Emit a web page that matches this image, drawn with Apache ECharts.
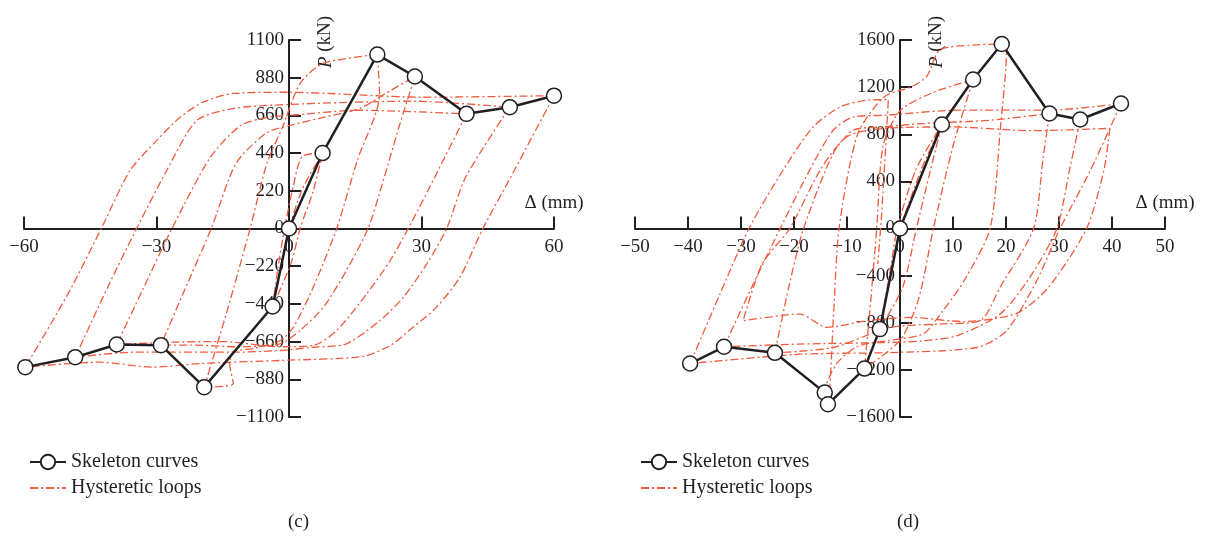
<!DOCTYPE html>
<html>
<head>
<meta charset="utf-8">
<script src="https://cdn.jsdelivr.net/npm/echarts@6/dist/echarts.min.js"></script>
<style>
  html, body { margin: 0; padding: 0; background: #fff; }
  #chart { width: 1206px; height: 539px; }
</style>
</head>
<body>
<div id="chart"></div>
<script>
// ---- panel (c) ----
const ticksXc = [-60, -30, 0, 30, 60];
const ticksYc = [-1100, -880, -660, -440, -220, 0, 220, 440, 660, 880, 1100];

const skeletonC = [[-59.7, -809], [-48.4, -751], [-39, -677], [-29, -681], [-19.2, -926], [-3.7, -455],
  [0, 0], [7.6, 440], [20, 1015], [28.5, 887], [40.2, 669], [50, 708], [60, 775]];

const loopC1 = [[0, 0], [3, 230], [7.6, 440], [5.5, 220], [2.5, 0], [0.5, -200], [-3.7, -455],
  [-2.5, -230], [-1, 0], [1, 250], [3, 420], [7.6, 440]];
const loopC2 = [[20, 1015], [20.5, 780], [15.5, 400], [10.8, 0], [5.5, -342], [1, -576], [-2, -654],
  [-8, -700], [-12.6, -720], [-13.4, -790], [-12.6, -905], [-19.2, -926], [-14, -480], [-8.8, 0],
  [-5, 380], [-1.5, 590], [2.5, 846], [7.7, 963], [20, 1015]];
const loopC3 = [[28.5, 887], [25, 600], [21, 250], [17.9, 0], [13, -245], [7.8, -459], [2.5, -595],
  [-2, -673], [-12, -690], [-22, -680], [-29, -681], [-24, -380], [-17.6, 0], [-12, 380], [-5, 560],
  [0, 600], [8, 650], [16, 700], [22, 790], [28.5, 887]];
const loopC4 = [[40.2, 669], [33, 300], [27, 0], [22.9, -187], [17.6, -381], [10.8, -595], [5.5, -683],
  [-2, -690], [-15, -660], [-26, -663], [-39, -677], [-33, -350], [-26.5, 0], [-17.8, 416], [-11, 600],
  [-5, 648], [0, 660], [16, 690], [40.2, 669]];
const loopC5 = [[50, 708], [40, 300], [35.7, 0], [31.2, -206], [25.9, -401], [20.6, -537], [13, -673],
  [5.4, -693], [-2, -712], [-12.7, -722], [-35.3, -722], [-48.4, -751], [-41, -340], [-34.5, 0],
  [-27.7, 338], [-20.9, 630], [-12.7, 700], [0, 724], [28, 743], [50, 708]];
const loopC6 = [[60, 775], [50.2, 300], [43.9, 0], [38.7, -284], [33.4, -459], [28.1, -576], [22.9, -683],
  [16.7, -747], [-2, -770], [-20.2, -788], [-30.9, -809], [-42.9, -780], [-59.7, -809], [-50, -380],
  [-42.5, 0], [-36, 338], [-30, 513], [-24.7, 648], [-19.5, 737], [-12.7, 788], [0, 795], [30.3, 766],
  [60, 775]];

// ---- panel (d) ----
const ticksXd = [-50, -40, -30, -20, -10, 0, 10, 20, 30, 40, 50];
const ticksYd = [-1600, -1200, -800, -400, 0, 400, 800, 1200, 1600];

const skeletonD = [[-39.6, -1146], [-33.2, -1004], [-23.6, -1055], [-14.2, -1393], [-13.6, -1492],
  [-6.7, -1189], [-3.8, -854], [0, 0], [7.9, 883], [13.8, 1265], [19.2, 1566], [28.2, 976], [34, 925],
  [41.7, 1061]];

const loopD1 = [[0, 0], [4, 500], [7.9, 883], [5.5, 450], [3.1, 0], [0.5, -500], [-3.8, -854],
  [-2, -400], [-0.5, 0], [3, 500], [7.9, 883]];
const loopD2 = [[13.8, 1265], [10, 700], [6.3, 0], [3.5, -600], [0, -950], [-6.7, -1189], [-5.5, -600],
  [-4.4, 0], [-3.2, 700], [0, 1000], [6, 1150], [13.8, 1265]];
const loopD3 = [[19.2, 1566], [20.1, 1515], [18.9, 834], [17, 0], [12, -450], [8.1, -698], [4.4, -894],
  [-2, -950], [-8, -1000], [-12, -1150], [-14.2, -1393], [-13.6, -1492], [-12.5, -700], [-11.5, 0],
  [-8, 800], [-3, 1117], [2, 1200], [5, 1288], [7.5, 1515], [13.8, 1557], [19.2, 1566]];
const loopD4 = [[28.2, 976], [27, 600], [25.2, 0], [18.9, -497], [15.1, -783], [7.5, -811], [-1.9, -840],
  [-12.6, -1010], [-23.6, -1055], [-21, -500], [-18.2, 0], [-12.6, 637], [-8.8, 834], [-3.2, 862],
  [4.4, 891], [17, 919], [28.2, 976]];
const loopD5 = [[34, 925], [32, 500], [29.6, 0], [24.5, -414], [18.9, -726], [10.7, -911], [4.4, -953],
  [-1.9, -967], [-18.9, -981], [-33.2, -1004], [-28, -500], [-22.6, 0], [-17, 500], [-12.6, 834],
  [-8.8, 947], [-2.5, 962], [10.7, 1004], [28.3, 1004], [41.7, 1061]];
const loopD6 = [[41.7, 1061], [36, 500], [30.2, 0], [25.8, -443], [20.1, -868], [14.5, -1010],
  [-1.9, -1053], [-18.9, -1067], [-39.6, -1146], [-34, -560], [-28.5, 0], [-22, 500], [-16.4, 862],
  [-11.3, 1032], [-6.3, 1089], [-2.2, 1095], [-3.5, 96], [-4.2, -300]];
const loopD7 = [[39.6, 850], [38.5, 500], [35.2, 0], [28, -500], [22, -720], [12, -790], [1.9, -755],
  [-6.3, -783], [-13.8, -840], [-18.9, -726], [-29.6, -783], [-26, -300], [-20.8, 0], [-15, 500],
  [-10, 780], [-3, 850], [10, 862], [25, 830], [39.6, 850]];

const loopsC = [loopC1, loopC2, loopC3, loopC4, loopC5, loopC6];
const loopsD = [loopD1, loopD2, loopD3, loopD4, loopD5, loopD6, loopD7];

const FONT = '"Liberation Serif", "DejaVu Serif", serif';
const INK = '#231f20';
const LOOP = '#ef5b3d';
const minus = v => String(v).replace('-', '\u2212');

// both panels share the same plot box size
const W = 1206, H = 539;
const gridC = { left: 24, right: 652, top: 40, bottom: 122 };
const gridD = { left: 635, right: 41, top: 40, bottom: 122 };

// axes cross at zero: shift them in by where zero falls inside the box
const zeroFrac = ticks => (0 - ticks[0]) / (ticks[ticks.length - 1] - ticks[0]);

const xAxisFor = (gridIndex, ticks, yTicks, grid) => ({
  type: 'value',
  gridIndex: gridIndex,
  min: ticks[0],
  max: ticks[ticks.length - 1],
  interval: ticks[1] - ticks[0],
  position: 'bottom',
  offset: -zeroFrac(yTicks) * (H - grid.top - grid.bottom),
  name: 'Δ (mm)',
  nameLocation: 'end',
  nameGap: 0,
  nameTextStyle: {
    fontFamily: FONT, fontSize: 19, color: INK,
    align: 'center', verticalAlign: 'bottom', padding: [0, 0, 16, 0]
  },
  axisLine: { onZero: false, lineStyle: { color: INK, width: 2 } },
  axisTick: { inside: true, length: 12, lineStyle: { color: INK, width: 2 } },
  axisLabel: { formatter: minus, fontFamily: FONT, fontSize: 19, color: INK, margin: 9 },
  splitLine: { show: false }
});

const yAxisFor = (gridIndex, ticks, xTicks, grid) => ({
  type: 'value',
  gridIndex: gridIndex,
  min: ticks[0],
  max: ticks[ticks.length - 1],
  interval: ticks[1] - ticks[0],
  position: 'left',
  offset: -zeroFrac(xTicks) * (W - grid.left - grid.right),
  name: '{i|P} (kN)',
  nameLocation: 'end',
  nameGap: -2,
  nameRotate: 90,
  nameTextStyle: {
    fontFamily: FONT, fontSize: 19, color: INK,
    align: 'center', verticalAlign: 'top', padding: [27, 0, 0, 0],
    rich: { i: { fontFamily: FONT, fontSize: 19, color: INK, fontStyle: 'italic' } }
  },
  axisLine: { onZero: false, lineStyle: { color: INK, width: 2 } },
  axisTick: { inside: true, length: 12, lineStyle: { color: INK, width: 2 } },
  axisLabel: { formatter: minus, fontFamily: FONT, fontSize: 19, color: INK, margin: 5 },
  splitLine: { show: false }
});

const loopSeries = (loops, idx) => loops.map(pts => ({
  name: 'Hysteretic loops',
  type: 'line',
  xAxisIndex: idx,
  yAxisIndex: idx,
  data: pts,
  symbol: 'none',
  smooth: 0.25,
  z: 2,
  itemStyle: { color: LOOP, opacity: 0 },
  lineStyle: { color: LOOP, width: 1.3, type: [8, 3, 2, 3] }
}));

const skeletonSeries = (pts, idx) => ({
  name: 'Skeleton curves',
  type: 'line',
  xAxisIndex: idx,
  yAxisIndex: idx,
  data: pts,
  symbol: 'circle',
  symbolSize: 15,
  z: 5,
  itemStyle: { color: '#fff', borderColor: INK, borderWidth: 1.5 },
  lineStyle: { color: INK, width: 2.5 }
});

const legendAt = left => ({
  orient: 'vertical',
  left: left,
  top: 447,
  itemWidth: 36,
  itemHeight: 18,
  itemGap: 6,
  itemTextGap: 13,
  data: ['Skeleton curves', 'Hysteretic loops'],
  textStyle: { fontFamily: FONT, fontSize: 20, color: INK }
});

const chart = echarts.init(document.getElementById('chart'));
chart.setOption({
  animation: false,
  backgroundColor: '#fff',
  grid: [
    Object.assign({ outerBoundsMode: 'none' }, gridC),
    Object.assign({ outerBoundsMode: 'none' }, gridD)
  ],
  xAxis: [xAxisFor(0, ticksXc, ticksYc, gridC), xAxisFor(1, ticksXd, ticksYd, gridD)],
  yAxis: [yAxisFor(0, ticksYc, ticksXc, gridC), yAxisFor(1, ticksYd, ticksXd, gridD)],
  legend: [legendAt(24), legendAt(635)],
  graphic: [
    { type: 'text', left: 288, top: 513, style: { text: '(c)', font: '19px ' + FONT, fill: INK } },
    { type: 'text', left: 897, top: 513, style: { text: '(d)', font: '19px ' + FONT, fill: INK } }
  ],
  series: [
    ...loopSeries(loopsC, 0),
    skeletonSeries(skeletonC, 0),
    ...loopSeries(loopsD, 1),
    skeletonSeries(skeletonD, 1)
  ]
});
</script>
</body>
</html>
